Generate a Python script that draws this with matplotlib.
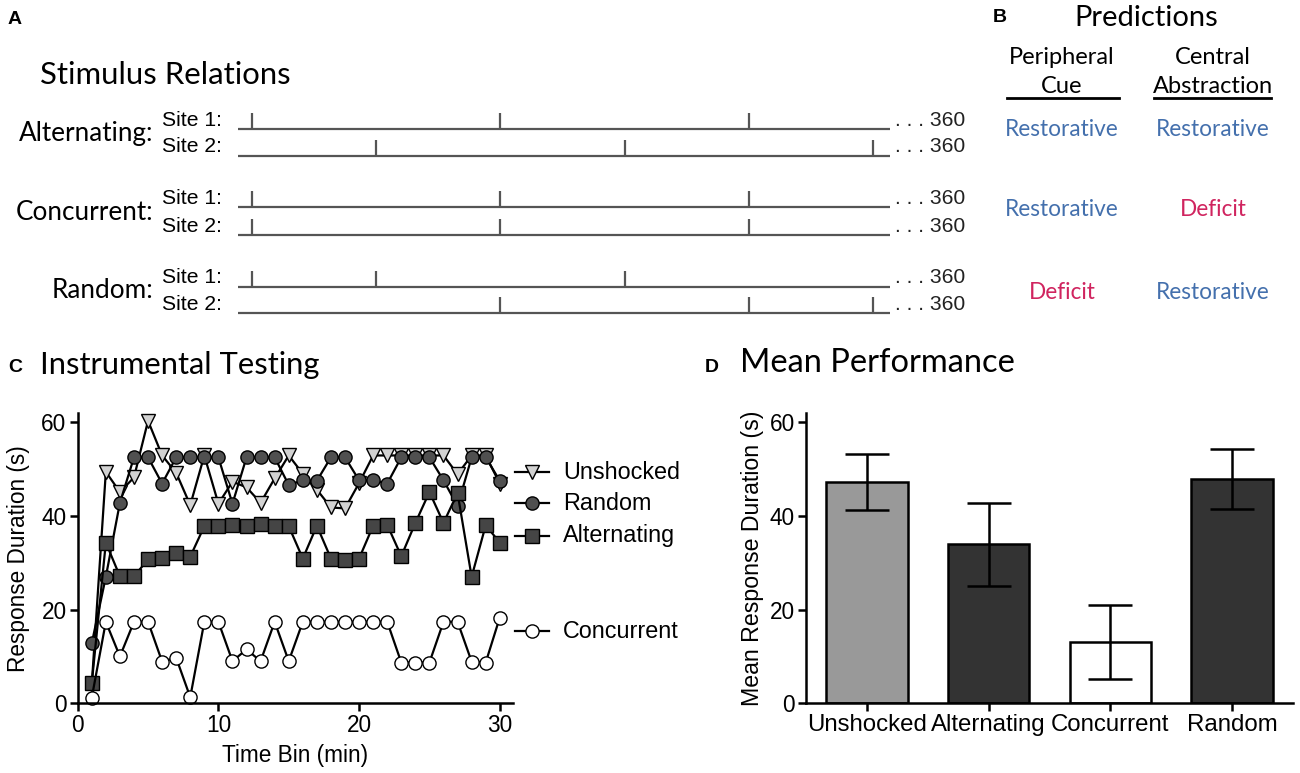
import matplotlib
matplotlib.use("Agg")
import matplotlib.pyplot as plt

# ---------------- data ----------------
time_bins = list(range(1, 31))
unshocked = [4.0, 49.4, 45.1, 48.2, 60.3, 52.9, 49.2, 42.3, 52.9, 42.6,
             47.3, 46.1, 42.8, 48.0, 52.9, 49.0, 45.6, 41.8, 41.6, 47.0,
             52.9, 52.9, 52.9, 52.9, 52.9, 52.9, 48.9, 52.9, 52.9, 46.9]
random_grp = [12.8, 27.0, 42.8, 52.5, 52.5, 46.9, 52.5, 52.5, 52.5, 52.5,
              42.6, 52.5, 52.5, 52.5, 46.6, 47.6, 47.5, 52.5, 52.5, 47.6,
              47.6, 46.9, 52.5, 52.5, 52.5, 47.6, 42.1, 52.5, 52.5, 47.5]
alternating = [4.3, 34.3, 27.1, 27.1, 30.7, 31.1, 32.0, 31.3, 37.8, 37.8,
               38.0, 37.8, 38.2, 37.8, 37.8, 30.9, 37.9, 30.9, 30.6, 30.9,
               37.9, 38.1, 31.4, 38.5, 45.1, 38.5, 44.9, 27.0, 38.0, 34.3]
concurrent = [1.2, 17.4, 10.0, 17.4, 17.4, 8.9, 9.7, 1.3, 17.4, 17.4,
              9.0, 11.5, 9.0, 17.4, 9.0, 17.4, 17.4, 17.4, 17.4, 17.4,
              17.4, 17.4, 8.7, 8.7, 8.7, 17.4, 17.4, 8.9, 8.7, 18.3]

groups = ["Unshocked", "Alternating", "Concurrent", "Random"]
means = [47.2, 33.9, 13.1, 47.8]
sems = [6.0, 8.8, 7.9, 6.4]
bar_colors = ["#999999", "#333333", "#ffffff", "#333333"]

conditions = ["Alternating:", "Concurrent:", "Random:"]
site1_slots = [[0, 2, 4], [0, 2, 4], [0, 1, 3]]
site2_slots = [[1, 3, 5], [0, 2, 4], [2, 4, 5]]
trial_count = 360

pred_headers = [("Peripheral", "Cue"), ("Central", "Abstraction")]
pred_peripheral = ["Restorative", "Restorative", "Deficit"]
pred_central = ["Restorative", "Deficit", "Restorative"]
pred_colors = {"Restorative": "#4470ad", "Deficit": "#d0245f"}

# ---------------- styles ----------------
TITLE = "Lato"
SANS = "Liberation Sans"
plt.rcParams["font.family"] = [SANS, "DejaVu Sans"]

W, H = 1300, 773
fig = plt.figure(figsize=(13, 7.73), dpi=100)

axO = fig.add_axes([0, 0, 1, 1])
axO.set_xlim(0, W)
axO.set_ylim(H, 0)
axO.axis("off")

# ---- Panel A ----
axO.text(15, 20, "A", fontsize=14, fontweight="bold", family=SANS, ha="center", va="center")
axO.text(40, 75, "Stimulus Relations", fontsize=22.4, family=TITLE, va="center")
line_rows = [(129.3, 156.0), (207.3, 235.0), (286.7, 313.3)]
grey = "#555555"
for cond, (y1, y2), s1, s2 in zip(conditions, line_rows, site1_slots, site2_slots):
    axO.text(153, (y1 + y2) / 2 - 9, cond, ha="right", va="center", fontsize=18.8, family=TITLE)
    for y, slots, lab in ((y1, s1, "Site 1:"), (y2, s2, "Site 2:")):
        axO.text(162, y - 9, lab, ha="left", va="center", fontsize=15.2, family=SANS)
        axO.plot([238, 890], [y, y], color=grey, lw=1.6, solid_capstyle="butt")
        xs = [252 + 124.2 * s for s in slots]
        axO.vlines(xs, y - 16, y, color=grey, lw=1.6)
        axO.text(895, y - 9, ". . . %d" % trial_count, ha="left", va="center",
                 fontsize=15.2, family=SANS, color="#222222")

# ---- Panel B ----
axO.text(1000, 18, "B", fontsize=14, fontweight="bold", family=SANS, ha="center", va="center")
axO.text(1146, 18, "Predictions", fontsize=21, family=TITLE, ha="center", va="center")
col_x = [1062, 1213]
for cx, (l1, l2) in zip(col_x, pred_headers):
    axO.text(cx, 57.3, l1, fontsize=17, family=TITLE, ha="center", va="center")
    axO.text(cx, 86.7, l2, fontsize=17, family=TITLE, ha="center", va="center")
axO.plot([1007, 1119], [98.3, 98.3], color="black", lw=2)
axO.plot([1154, 1271], [98.3, 98.3], color="black", lw=2)
row_y = [130, 209.3, 292.7]
for y, p, c in zip(row_y, pred_peripheral, pred_central):
    axO.text(col_x[0], y, p, fontsize=16.3, family=TITLE, ha="center", va="center", color=pred_colors[p])
    axO.text(col_x[1], y, c, fontsize=16.3, family=TITLE, ha="center", va="center", color=pred_colors[c])

# ---- Panel titles C / D ----
axO.text(15, 367, "C", fontsize=14, fontweight="bold", family=SANS, ha="center", va="center")
axO.text(40, 365, "Instrumental Testing", fontsize=22.2, family=TITLE, va="center")
axO.text(712, 367, "D", fontsize=14, fontweight="bold", family=SANS, ha="center", va="center")
axO.text(740, 363, "Mean Performance", fontsize=23.5, family=TITLE, va="center")

def style_axes(ax, labsize=16.3):
    for s in ("top", "right"):
        ax.spines[s].set_visible(False)
    for s in ("left", "bottom"):
        ax.spines[s].set_linewidth(1.8)
    ax.tick_params(length=6, width=1.8, labelsize=labsize, pad=2)
    ax.set_facecolor("none")

bottom = (H - 703.3) / H
height = (703.3 - 413.3) / H

# ---- Panel C ----
axC = fig.add_axes([77.7 / W, bottom, (513 - 77.7) / W, height])
series = [
    ("Unshocked", unshocked, "v", "#d2d2d2"),
    ("Random", random_grp, "o", "#505050"),
    ("Alternating", alternating, "s", "#454545"),
    ("Concurrent", concurrent, "o", "white"),
]
for name, vals, mk, fc in series:
    axC.plot(time_bins, vals, color="black", lw=1.6, marker=mk, ms=9.5, mfc=fc,
             mec="black", mew=1.0, clip_on=False)
axC.set_xlim(0, 30.94)
axC.set_ylim(0, 61.9)
axC.set_xticks([0, 10, 20, 30])
axC.set_yticks([0, 20, 40, 60])
style_axes(axC)
axC.set_xlabel("Time Bin (min)", fontsize=16.3, labelpad=5)
axC.set_ylabel("Response Duration (s)", fontsize=16.3, labelpad=8)

legend_y = {"Unshocked": 472.3, "Random": 503.3, "Alternating": 535.7, "Concurrent": 631}
for name, vals, mk, fc in series:
    y = legend_y[name]
    axO.plot([515, 532, 549], [y, y, y], color="black", lw=1.6, marker=mk, ms=9.5,
             mfc=fc, mec="black", mew=1.0, markevery=[1])
    axO.text(563, y, name, fontsize=16.8, family=SANS, va="center", ha="left")

# ---- Panel D ----
axD = fig.add_axes([806 / W, bottom, (1293 - 806) / W, height])
xpos = list(range(len(groups)))
axD.bar(xpos, means, width=0.67, color=bar_colors, edgecolor="black", linewidth=1.8, zorder=2)
axD.errorbar(xpos, means, yerr=sems, fmt="none", ecolor="black", elinewidth=1.8,
             capsize=15.5, capthick=1.8, zorder=3)
axD.set_xlim(-0.5, 3.5)
axD.set_ylim(0, 61.9)
axD.set_yticks([0, 20, 40, 60])
axD.set_xticks(xpos)
axD.set_xticklabels(groups)
style_axes(axD, labsize=17.3)
axD.tick_params(axis="y", labelsize=16.3)
axD.set_ylabel("Mean Response Duration (s)", fontsize=16.7, labelpad=4)

fig.savefig("out.png", dpi=100, facecolor="white")
